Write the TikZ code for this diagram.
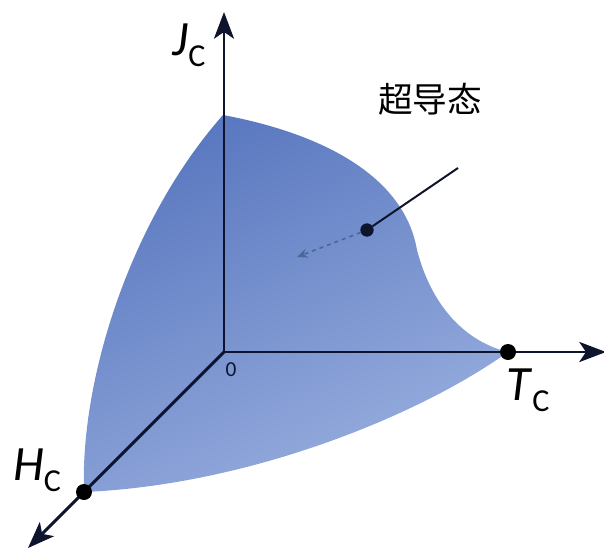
\documentclass[tikz,border=0pt]{standalone}
\usepackage{fontspec}
\setmainfont{Carlito}
\newfontfamily\cjk{Noto Sans CJK SC}
\usetikzlibrary{arrows.meta,positioning}
\definecolor{surfdark}{RGB}{90,120,192}
\definecolor{surflight}{RGB}{152,174,222}
\definecolor{axisnavy}{RGB}{14,20,45}
\definecolor{probecolor}{RGB}{80,100,150}
\newcommand{\critlab}[1]{\textit{#1}\raisebox{-8pt}{\fontsize{24}{24}\selectfont C}}

\begin{document}
\begin{tikzpicture}[x=0.75pt,y=-0.75pt,>=Stealth]
\tikzset{axis/.style={line width=2.2pt,draw=axisnavy,-{Stealth[length=20pt,width=15pt,inset=5pt]}},
  crit/.style={circle,fill=black,inner sep=0pt,minimum size=12pt},
  axlabel/.style={inner sep=0pt,font=\fontsize{37}{40}\selectfont}}
\useasboundingbox (0,0) rectangle (604,550);

% critical surface
\shade[top color=surfdark,bottom color=surflight,shading angle=25]
  (223,115) .. controls (330,135) and (405,180) .. (417,250)
  .. controls (430,300) and (460,340) .. (508,352)
  .. controls (420,415) and (250,485) .. (84,492)
  .. controls (80,380) and (130,220) .. (223,115) -- cycle;

\coordinate (O) at (224,352);
\coordinate (jtip) at (224,12);
\coordinate (ttip) at (606,352);
\coordinate (htip) at (28,548);

\draw[axis] (O) -- (jtip);
\draw[axis] (O) -- (ttip);
\draw[axis] (O) -- (htip);

\node[crit] (tc) at (508,352) {};
\node[crit] (hc) at (84,492) {};

\node[axlabel] (jlab) at (189,45) {\critlab{J}};
\node[axlabel] (tlab) at (528,390) {\critlab{T}};
\node[axlabel] (hlab) at (37,470) {\critlab{H}};
\node[inner sep=0pt,font=\fontsize{16}{16}\selectfont,text=axisnavy] (zero) at (231,370) {0};

% state pointer
\node[inner sep=0pt,font=\cjk\fontsize{26}{28}\selectfont] (state) at (430,99) {超导态};
\node[crit,minimum size=10pt,fill=axisnavy] (pt) at (367,230) {};
\coordinate (ptfar) at (458,168);
\coordinate (ptin) at (297,257);
\draw[line width=1.5pt,axisnavy] (ptfar) -- (pt);
\draw[dashed,line width=1.2pt,probecolor,-{Stealth[length=8pt,width=7pt]}] (pt) -- (ptin);
\end{tikzpicture}
\end{document}
